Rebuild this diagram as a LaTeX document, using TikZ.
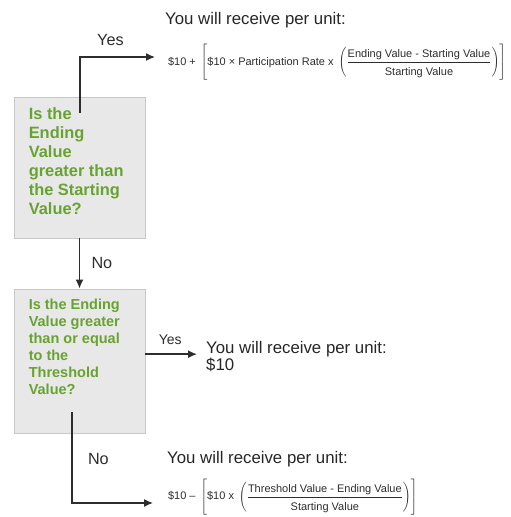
\documentclass[tikz,border=0pt]{standalone}
\usepackage{fontspec}
\setmainfont{Liberation Sans}
\usepackage{tikz}
\usetikzlibrary{arrows.meta}
\usetikzlibrary{positioning}
\definecolor{askgreen}{RGB}{104,163,50}
\definecolor{boxgray}{RGB}{232,232,232}
\definecolor{boxline}{RGB}{200,200,200}
\definecolor{inkgray}{RGB}{45,45,45}
\newcommand{\fracline}[1]{\mbox{\fontsize{11}{13}\selectfont#1}}

\begin{document}
\begin{tikzpicture}[x=1pt,y=-1pt,>={Latex[length=9pt,width=8pt]},
    flow/.style={->,draw=inkgray,line width=1.4pt},
    ask box/.style={rectangle,draw=boxline,fill=boxgray,line width=0.8pt,
                    minimum width=131pt,inner sep=0pt},
    ask text/.style={text=askgreen,align=left,inner sep=0pt},
    say/.style={text=black!85,font=\fontsize{16.8}{17}\selectfont,inner sep=0pt},
    answer/.style={text=inkgray,font=\fontsize{11}{13}\selectfont,anchor=west},
    tag/.style={text=inkgray,font=\fontsize{16.2}{18}\selectfont}]
  \useasboundingbox (0,0) rectangle (511,517);
  % question boxes
  \node[ask box,minimum height=141pt] (Q1) at (79.5,167.5) {};
  \node[ask box,minimum height=144pt] (Q2) at (79.5,361) {};
  \node[ask text,font=\bfseries\fontsize{16.4}{19}\selectfont,anchor=north west,
        below right=11pt and 15pt of Q1.north west] (Q1txt)
       {Is the\\Ending\\Value\\greater than\\the Starting\\Value?};
  \node[ask text,font=\bfseries\fontsize{14.5}{17}\selectfont,anchor=north west,
        below right=10.5pt and 15pt of Q2.north west] (Q2txt)
       {Is the Ending\\Value greater\\than or equal\\to the\\Threshold\\Value?};
  % payouts
  \node[say,anchor=base west] (R1) at (165,24) {You will receive per unit:};
  \node[answer] (F1) at (164.5,63.25)
       {$\mbox{\$10 + }\left[\rule[-17pt]{0pt}{37pt}\mbox{\$10 × Participation Rate x }
        \left(\displaystyle\frac{\fracline{Ending Value - Starting Value}}
        {\fracline{\rule{0pt}{12pt}Starting Value}}\right)\right]$};
  \node[say,align=left,anchor=north west] (R2) at (206,340.8)
       {You will receive per unit:\\\$10};
  \node[say,anchor=base west] (R3) at (167,463) {You will receive per unit:};
  \node[answer] (F2) at (164.5,498)
       {$\mbox{\$10 – }\left[\rule[-17pt]{0pt}{37pt}\mbox{\$10 x }
        \left(\displaystyle\frac{\fracline{Threshold Value - Ending Value}}
        {\fracline{\rule{0pt}{12pt}Starting Value}}\right)\right]$};
  % connectors
  \coordinate (Y1) at (80,113);
  \coordinate (N2) at (72,412);
  \coordinate (R2in) at ([yshift=2pt]R2.west);
  \draw[flow,shorten >=9.5pt] (Y1) |- ([yshift=6.25pt]F1.west)
       node[tag,pos=0.68,above=7pt] {Yes};
  \draw[flow] (Q1) -- node[tag,right=8pt] {No} (Q2);
  \draw[flow,shorten >=9pt] (Q2.east |- R2in) -- (R2in)
       node[tag,font=\fontsize{14}{16}\selectfont,pos=0.41,above=6pt] {Yes};
  \draw[flow,shorten >=11.5pt] (N2) |- ([yshift=-5pt]F2.west)
       node[tag,pos=0.26,right=12pt] {No};
\end{tikzpicture}
\end{document}
